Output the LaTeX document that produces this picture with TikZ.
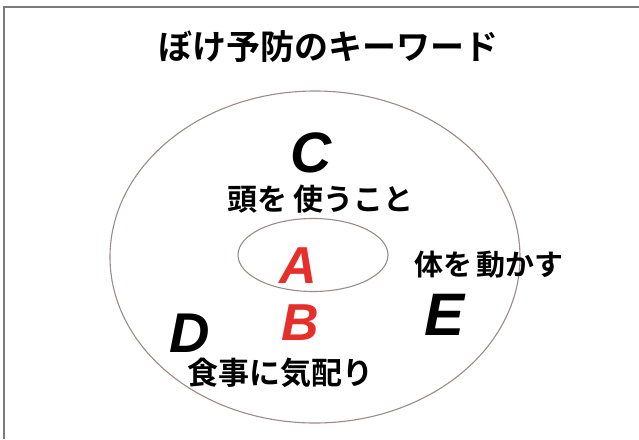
\documentclass[tikz,border=0pt]{standalone}
\usepackage{fontspec}
\usetikzlibrary{shapes.geometric}
\newfontfamily\jp[BoldFont={Noto Sans CJK JP Bold}]{Noto Sans CJK JP}
\newfontfamily\lat{Liberation Sans}
\definecolor{ringcol}{HTML}{9A8C8A}
\definecolor{framecol}{HTML}{7A7A7A}
\definecolor{redtxt}{HTML}{E62E2A}
\begin{document}
\begin{tikzpicture}[x=1pt,y=-1pt,
  jptext/.style={inner sep=0pt,font=\jp\bfseries\fontsize{#1}{#1}\selectfont},
  bigletter/.style={inner sep=0pt,font=\lat\bfseries\itshape\fontsize{#1}{#1}\selectfont},
  ring/.style={draw=ringcol,line width=1.1pt}]
\useasboundingbox (0,0) rectangle (639,439);
\fill[white] (0,0) rectangle (639,439);
% frame
\coordinate (fb) at (4,439);
\coordinate (fc) at (4,7);
\coordinate (fr) at (639,7);
\draw[framecol,line width=1.8pt] (fb) -- (fc) -- (fr);
% title
\node[jptext=34] (title) at (328,47) {ぼけ予防のキーワード};
% ellipses
\node[ring,ellipse,minimum width=410pt,minimum height=332pt,inner sep=0pt] (outer) at (315,257) {};
\node[ring,ellipse,minimum width=150pt,minimum height=73pt,inner sep=0pt] (inner) at (313,255) {};
% letters
\node[bigletter=57] (C) at (311,153) {C};
\node[bigletter=52,text=redtxt] (A) at (298,266) {A};
\node[bigletter=52,text=redtxt] (B) at (300,323) {B};
\node[bigletter=56] (D) at (190,333) {D};
\node[bigletter=60] (E) at (445,315) {E};
% phrases
\node[jptext=30] (head) at (320,199) {頭を\hspace{6pt}使うこと};
\node[jptext=29] (body) at (489,265) {体を\hspace{5pt}動かす};
\node[jptext=31] (food) at (280,373) {食事に気配り};
\end{tikzpicture}
\end{document}
